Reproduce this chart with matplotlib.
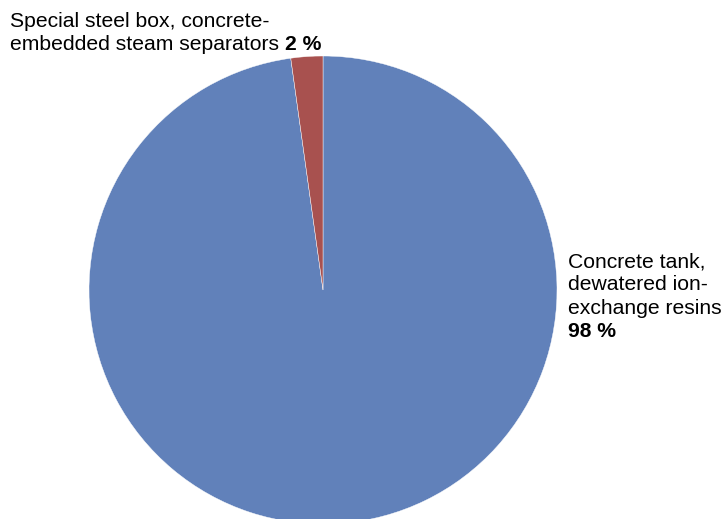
import matplotlib.pyplot as plt

# pie data
labels = ['Concrete tank, dewatered ion-exchange resins',
          'Special steel box, concrete-embedded steam separators']
values = [97.8, 2.2]
pct_labels = ['98 %', '2 %']
colors = ['#6181BA', '#A8514F']

W, H = 725, 519
fig = plt.figure(figsize=(W / 100, H / 100), dpi=100)
ax = fig.add_axes([0, 0, 1, 1])

ax.pie(values, colors=colors, startangle=90, counterclock=False,
       radius=234, center=(323, H - 290),
       wedgeprops=dict(edgecolor='white', linewidth=0.3))
ax.set_xlim(0, W)
ax.set_ylim(0, H)
ax.set_aspect('equal')
ax.axis('off')

fs = 15.2
font = dict(family='Liberation Sans', fontsize=fs, color='black', va='baseline')

# small slice label (top left)
ax.text(10, H - 27, 'Special steel box, concrete-', **font)
t = ax.text(10, H - 50, 'embedded steam separators ', **font)
ax.annotate(pct_labels[1], xy=(1, 0), xycoords=t, va='bottom',
            fontweight='bold', family='Liberation Sans', fontsize=fs)

# big slice label (right)
right_lines = ['Concrete tank,', 'dewatered ion-', 'exchange resins']
for i, line in enumerate(right_lines):
    ax.text(568, H - (267 + i * 23.4), line, **font)
ax.text(568, H - (267 + 3 * 23.4), pct_labels[0], fontweight='bold', **font)

fig.savefig('out.png', dpi=100)
